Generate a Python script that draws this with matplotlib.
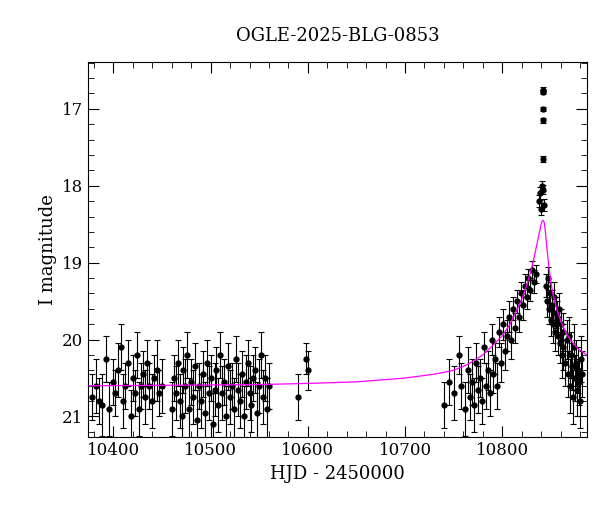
import matplotlib
matplotlib.use("Agg")
import matplotlib.pyplot as plt
from matplotlib.ticker import MultipleLocator

plt.rcParams["font.family"] = "DejaVu Serif"

title = "OGLE-2025-BLG-0853"

# observations: HJD-2450000, I mag, error
hjd = [10378, 10382, 10385, 10388, 10392, 10395, 10400, 10402, 10405, 10408, 10410, 10412,
       10415, 10418, 10420, 10422, 10424, 10426, 10428, 10430, 10432, 10435, 10437, 10440,
       10442, 10445, 10447, 10450,
       10460, 10462, 10464, 10466, 10468, 10470, 10472, 10474, 10476, 10478, 10480, 10482,
       10484, 10486, 10488, 10490, 10492, 10494, 10496, 10498, 10500, 10502, 10504, 10506,
       10508, 10510, 10512, 10514, 10516, 10518, 10520, 10522, 10524, 10526, 10528, 10530,
       10532, 10534, 10536, 10538, 10540, 10542, 10544, 10546, 10548, 10550, 10552, 10554,
       10556, 10558, 10560, 10590, 10598, 10600,
       10740, 10745, 10750, 10755, 10758, 10762, 10765, 10767, 10769, 10771, 10773, 10775,
       10777, 10779, 10781, 10783, 10785, 10787, 10789, 10791, 10793, 10795, 10797, 10799,
       10801, 10803, 10805, 10807, 10809, 10811, 10813, 10815, 10817, 10819, 10821, 10823,
       10825, 10827, 10829, 10831, 10833, 10835,
       10838, 10839, 10840, 10841, 10842, 10842, 10842, 10842, 10842, 10842, 10843,
       10845, 10846, 10847, 10848, 10849, 10850, 10851, 10852, 10853, 10854, 10855, 10856,
       10857, 10858, 10859, 10860, 10861, 10862, 10863, 10865, 10867, 10868, 10869, 10870,
       10871, 10872, 10873, 10874, 10875, 10876, 10877, 10878, 10879, 10880, 10881, 10882]
mag = [20.75, 20.6, 20.8, 20.85, 20.25, 20.9, 20.55, 20.7, 20.4, 20.1, 20.8, 20.6,
       20.3, 21.0, 20.5, 20.7, 20.2, 20.9, 20.6, 20.45, 20.75, 20.3, 20.6, 20.8,
       20.5, 20.4, 20.7, 20.6,
       20.9, 20.5, 20.7, 20.3, 20.8, 21.0, 20.4, 20.6, 20.2, 20.9, 20.55, 20.75,
       20.35, 21.05, 20.6, 20.8, 20.45, 20.95, 20.3, 20.7, 20.5, 21.1, 20.65, 20.4,
       20.85, 20.2, 20.7, 20.55, 21.0, 20.35, 20.75, 20.6, 20.9, 20.25, 20.65, 20.8,
       20.45, 21.0, 20.55, 20.3, 20.7, 20.85, 20.5, 20.4, 20.95, 20.6, 20.2, 20.75,
       20.5, 20.9, 20.6, 20.75, 20.25, 20.4,
       20.85, 20.55, 20.7, 20.2, 20.6, 20.9, 20.4, 20.75, 20.55, 20.85, 20.3, 20.65,
       20.5, 20.8, 20.1, 20.6, 20.4, 20.7, 20.0, 20.45, 20.25, 20.6, 19.9, 20.3,
       19.8, 20.15, 19.95, 19.7, 20.0, 19.6, 19.85, 19.5, 19.7, 19.4, 19.55, 19.3,
       19.45, 19.2, 19.35, 19.1, 19.25, 19.15,
       18.2, 18.1, 18.3, 18.0, 16.75, 16.78, 17.0, 17.15, 17.65, 18.05, 18.25,
       19.3, 19.5, 19.2, 19.6, 19.4, 19.75, 19.55, 19.8, 19.45, 19.9, 19.65, 19.7,
       19.95, 19.6, 20.05, 19.8, 20.2, 19.9, 20.1, 20.3, 20.0, 20.45, 19.95, 20.6,
       20.2, 20.35, 20.75, 20.1, 20.5, 20.3, 20.65, 20.4, 20.55, 20.8, 20.25, 20.45]
err = [0.3, 0.35, 0.3, 0.4, 0.3, 0.35, 0.3, 0.3, 0.35, 0.3, 0.35, 0.3,
       0.3, 0.35, 0.3, 0.3, 0.3, 0.35, 0.3, 0.3, 0.35, 0.3, 0.3, 0.35,
       0.3, 0.4, 0.3, 0.35,
       0.35, 0.3, 0.35, 0.3, 0.35, 0.4, 0.3, 0.35, 0.3, 0.4, 0.3, 0.35,
       0.3, 0.4, 0.3, 0.35, 0.3, 0.4, 0.3, 0.35, 0.3, 0.4, 0.35, 0.3,
       0.35, 0.3, 0.35, 0.3, 0.4, 0.3, 0.35, 0.3, 0.4, 0.3, 0.35, 0.35,
       0.3, 0.4, 0.35, 0.3, 0.35, 0.35, 0.3, 0.3, 0.4, 0.35, 0.3, 0.35,
       0.3, 0.4, 0.3, 0.3, 0.2, 0.25,
       0.3, 0.3, 0.35, 0.25, 0.3, 0.35, 0.3, 0.3, 0.3, 0.35, 0.25, 0.3,
       0.25, 0.3, 0.2, 0.3, 0.25, 0.3, 0.2, 0.25, 0.2, 0.3, 0.2, 0.25,
       0.2, 0.25, 0.2, 0.2, 0.25, 0.15, 0.2, 0.15, 0.2, 0.15, 0.2, 0.15,
       0.15, 0.12, 0.15, 0.12, 0.15, 0.12,
       0.08, 0.08, 0.08, 0.06, 0.03, 0.03, 0.03, 0.03, 0.04, 0.06, 0.08,
       0.15, 0.2, 0.15, 0.2, 0.15, 0.2, 0.2, 0.25, 0.2, 0.25, 0.2, 0.2,
       0.25, 0.2, 0.25, 0.2, 0.3, 0.25, 0.3, 0.3, 0.25, 0.3, 0.25, 0.35,
       0.3, 0.3, 0.35, 0.3, 0.3, 0.3, 0.35, 0.3, 0.3, 0.35, 0.3, 0.3]

# model curve
model_t = [10375, 10450, 10500, 10550, 10600, 10650, 10700, 10730, 10750, 10765, 10780,
           10790, 10800, 10808, 10815, 10820, 10825, 10829, 10832, 10835, 10837, 10839,
           10840, 10841, 10842, 10843, 10844, 10845, 10846, 10848, 10850, 10852, 10856,
           10860, 10865, 10870, 10878, 10887]
model_m = [20.60, 20.595, 20.59, 20.585, 20.57, 20.55, 20.50, 20.45, 20.40, 20.32, 20.20,
           20.08, 19.95, 19.80, 19.62, 19.48, 19.30, 19.13, 18.98, 18.80, 18.68, 18.56,
           18.50, 18.46, 18.45, 18.47, 18.55, 18.68, 18.82, 19.05, 19.25, 19.40, 19.60,
           19.75, 19.90, 20.00, 20.12, 20.20]

fig, ax = plt.subplots(figsize=(6, 5.12), dpi=100)
fig.subplots_adjust(left=0.147, right=0.978, top=0.879, bottom=0.146)

ax.errorbar(hjd, mag, yerr=err, fmt="o", color="black", ecolor="black",
            ms=3.5, elinewidth=0.8, capsize=2.5, capthick=0.8, zorder=2)
ax.plot(model_t, model_m, color="magenta", lw=0.9, zorder=3)

ax.set_xlim(10374, 10887)
ax.set_ylim(21.27, 16.39)
ax.xaxis.set_major_locator(MultipleLocator(100))
ax.xaxis.set_minor_locator(MultipleLocator(20))
ax.yaxis.set_major_locator(MultipleLocator(1))
ax.yaxis.set_minor_locator(MultipleLocator(0.2))
ax.tick_params(which="both", direction="in", top=True, right=True, labelsize=12)
ax.tick_params(which="major", length=8)
ax.tick_params(which="minor", length=4)

ax.set_xlabel("HJD - 2450000", fontsize=13)
ax.set_ylabel("I magnitude", fontsize=13)
ax.set_title(title, fontsize=13, pad=15)

fig.savefig("out.png", dpi=100)
